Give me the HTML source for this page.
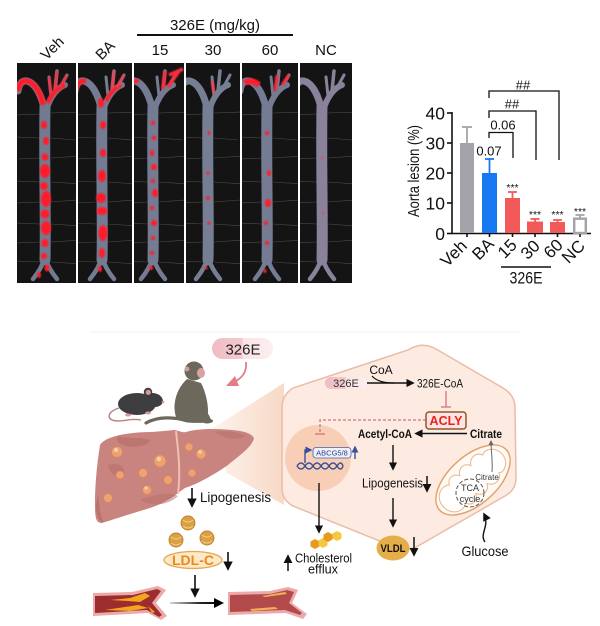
<!DOCTYPE html>
<html><head><meta charset="utf-8"><style>
html,body{margin:0;padding:0;background:#fff;}
svg{display:block;font-family:"Liberation Sans",Arial,sans-serif;}
</style></head><body>
<svg width="600" height="626" viewBox="0 0 600 626" xmlns="http://www.w3.org/2000/svg">
<defs>
  <filter id="bl" x="-50%" y="-50%" width="200%" height="200%"><feGaussianBlur stdDeviation="0.7"/></filter>
  <clipPath id="k1"><rect x="-28" y="0" width="59" height="220"/></clipPath>
  <clipPath id="k2"><rect x="-24" y="0" width="54" height="220"/></clipPath>
  <clipPath id="k3"><rect x="-19" y="0" width="50" height="220"/></clipPath>
  <clipPath id="k4"><rect x="-22" y="0" width="54" height="220"/></clipPath>
  <clipPath id="k5"><rect x="-25" y="0" width="56" height="220"/></clipPath>
  <clipPath id="k6"><rect x="-22" y="0" width="52" height="220"/></clipPath>
  <g id="pins" stroke="#a8a08a" stroke-width="0.6" opacity="0.4">
    <line x1="-30" y1="52" x2="-5" y2="51"/><line x1="6" y1="50" x2="35" y2="49"/>
    <line x1="-30" y1="74" x2="-5" y2="75"/><line x1="6" y1="75" x2="30" y2="77"/>
    <line x1="-26" y1="96" x2="-5" y2="95"/><line x1="6" y1="95" x2="35" y2="93"/>
    <line x1="-30" y1="118" x2="-5" y2="119"/><line x1="6" y1="119" x2="35" y2="121"/>
    <line x1="-30" y1="140" x2="-5" y2="139"/><line x1="6" y1="139" x2="32" y2="137"/>
    <line x1="-30" y1="160" x2="-5" y2="161"/><line x1="6" y1="161" x2="35" y2="163"/>
    <line x1="-30" y1="180" x2="-5" y2="179"/><line x1="6" y1="179" x2="35" y2="177"/>
    <line x1="-30" y1="198" x2="-5" y2="199"/><line x1="6" y1="199" x2="35" y2="201"/>
  </g>
  <g id="ves" fill="none" stroke-linecap="round">
    <path d="M0,44 C-1,100 1,160 0,197" stroke-width="11"/>
    <path d="M0,50 C-3,32 -10,20 -18,18 C-23,17 -26,21 -27,28" stroke-width="7"/>
    <path d="M1,48 C5,34 12,25 20,22" stroke-width="6"/>
    <path d="M10,28 L12,8" stroke-width="3.5"/>
    <path d="M15,25 L22,12" stroke-width="3"/>
    <path d="M6,33 L4,14" stroke-width="3"/>
    <path d="M0,194 Q-3,205 -12,216" stroke-width="4.5"/>
    <path d="M0,194 Q3,205 12,216" stroke-width="4.5"/>
  </g>
  <linearGradient id="pill" x1="0" x2="1" y1="0" y2="0">
    <stop offset="0" stop-color="#efbcc2"/><stop offset="0.5" stop-color="#f3cace"/><stop offset="0.5" stop-color="#fbe3e5"/><stop offset="1" stop-color="#fdeef0"/>
  </linearGradient>
  <linearGradient id="wedge" x1="0" x2="1" y1="0" y2="0">
    <stop offset="0" stop-color="#fdf3ec"/><stop offset="1" stop-color="#f7d9c6"/>
  </linearGradient>
  <linearGradient id="harr" gradientUnits="userSpaceOnUse" x1="170" y1="603" x2="222" y2="603">
    <stop offset="0" stop-color="#d5d5d5"/><stop offset="0.6" stop-color="#222"/><stop offset="1" stop-color="#000"/>
  </linearGradient>
  <marker id="ah" viewBox="0 0 10 10" refX="8" refY="5" markerWidth="6" markerHeight="6" orient="auto-start-reverse">
    <path d="M0,0 L10,5 L0,10 z" fill="#111"/>
  </marker>
  <marker id="ahb" viewBox="0 0 10 10" refX="8" refY="5" markerWidth="5" markerHeight="5" orient="auto-start-reverse">
    <path d="M0,0 L10,5 L0,10 z" fill="#3a4f9a"/>
  </marker>
  <marker id="ahg" viewBox="0 0 10 10" refX="8" refY="5" markerWidth="5" markerHeight="5" orient="auto-start-reverse">
    <path d="M0,0 L10,5 L0,10 z" fill="#666"/>
  </marker>
</defs>

<rect width="600" height="626" fill="#fff"/>

<!-- ===== TOP LEFT: aorta panels ===== -->
<g font-size="15" fill="#111">
  <text transform="translate(52,48) rotate(-45)" text-anchor="middle" dy="0.35em">Veh</text>
  <text transform="translate(105,50) rotate(-45)" text-anchor="middle" dy="0.35em">BA</text>
  <text x="160" y="55" text-anchor="middle">15</text>
  <text x="213" y="55" text-anchor="middle">30</text>
  <text x="270" y="55" text-anchor="middle">60</text>
  <text x="326" y="55" text-anchor="middle">NC</text>
  <text x="215" y="30" text-anchor="middle">326E (mg/kg)</text>
</g>
<line x1="137" y1="35" x2="293" y2="35" stroke="#111" stroke-width="2"/>

<!-- Veh -->
<g transform="translate(45,63)" clip-path="url(#k1)">
  <rect x="-28" y="0" width="59" height="220" fill="#141414"/>
  <use href="#pins"/>
  <use href="#ves" stroke="#838ca6" opacity="0.85"/>
  <g fill="#ff1f2a" filter="url(#bl)">
    <path d="M-2,42 C-4,30 -10,20 -18,18 C-23,17 -26,21 -27,28" stroke="#ff1f2a" stroke-width="5.5" fill="none"/>
    <path d="M3,40 C6,32 12,25 20,22" stroke="#ff1f2a" stroke-width="4.5" fill="none"/>
    <path d="M10,26 L12,8 M15,24 L22,12 M6,30 L4,14" stroke="#ff2a3a" stroke-width="2.5" fill="none"/>
    <ellipse cx="-1" cy="62" rx="3" ry="4"/>
    <ellipse cx="1" cy="78" rx="3" ry="4"/>
    <ellipse cx="0" cy="94" rx="3.5" ry="3.5"/>
    <ellipse cx="0" cy="108" rx="5" ry="7"/>
    <ellipse cx="-1" cy="123" rx="4" ry="4"/>
    <ellipse cx="1" cy="136" rx="5" ry="8"/>
    <ellipse cx="0" cy="151" rx="4.5" ry="4.5"/>
    <ellipse cx="1" cy="165" rx="5" ry="7"/>
    <ellipse cx="0" cy="180" rx="3.5" ry="4"/>
    <ellipse cx="-1" cy="193" rx="3" ry="3"/>
    <ellipse cx="2" cy="205" rx="2.5" ry="3.5"/>
    <ellipse cx="-6" cy="212" rx="2" ry="3"/>
  </g>
</g>
<!-- BA -->
<g transform="translate(102,63)" clip-path="url(#k2)">
  <rect x="-24" y="0" width="54" height="220" fill="#141414"/>
  <use href="#pins"/>
  <use href="#ves" stroke="#858ea8" opacity="0.85"/>
  <g fill="#ff1f2a" filter="url(#bl)">
    <path d="M-16,18 C-22,17 -25,21 -26,27" stroke="#ff1f2a" stroke-width="5" fill="none"/>
    <path d="M4,38 C7,32 12,25 19,22" stroke="#ff1f2a" stroke-width="4" fill="none"/>
    <path d="M10,26 L12,8 M15,24 L22,12" stroke="#ff3a4a" stroke-width="2.5" fill="none"/>
    <ellipse cx="-1" cy="40" rx="3" ry="5"/>
    <ellipse cx="1" cy="62" rx="3" ry="4"/>
    <ellipse cx="1" cy="90" rx="3" ry="4"/>
    <ellipse cx="0" cy="113" rx="4" ry="6"/>
    <ellipse cx="-1" cy="135" rx="5" ry="5"/>
    <ellipse cx="0" cy="148" rx="5.5" ry="4"/>
    <ellipse cx="1" cy="170" rx="4.5" ry="8"/>
    <ellipse cx="0" cy="190" rx="3" ry="5"/>
    <ellipse cx="-2" cy="206" rx="2" ry="3"/>
  </g>
</g>
<!-- 15 -->
<g transform="translate(153,63)" clip-path="url(#k3)">
  <rect x="-19" y="0" width="50" height="220" fill="#141414"/>
  <use href="#pins"/>
  <use href="#ves" stroke="#858ea8" opacity="0.85"/>
  <g fill="#ff1f2a" filter="url(#bl)">
    <path d="M-14,18 C-18,17 -20,19 -22,22" stroke="#ff1f2a" stroke-width="4" fill="none"/>
    <path d="M10,26 L12,8 M15,24 L26,8 M16,12 L30,6" stroke="#ff2a3a" stroke-width="3.5" fill="none"/>
    <ellipse cx="0" cy="60" rx="2" ry="2"/>
    <ellipse cx="1" cy="75" rx="2.2" ry="2.2"/>
    <ellipse cx="-1" cy="90" rx="2" ry="3"/>
    <ellipse cx="1" cy="104" rx="3" ry="3"/>
    <ellipse cx="0" cy="118" rx="2" ry="2"/>
    <ellipse cx="2" cy="130" rx="3" ry="4"/>
    <ellipse cx="-1" cy="145" rx="2" ry="2"/>
    <ellipse cx="1" cy="160" rx="3" ry="3"/>
    <ellipse cx="0" cy="175" rx="2" ry="2"/>
    <ellipse cx="-1" cy="190" rx="2" ry="2"/>
    <ellipse cx="-2" cy="205" rx="2" ry="2"/>
  </g>
</g>
<!-- 30 -->
<g transform="translate(208,63)" clip-path="url(#k4)">
  <rect x="-22" y="0" width="54" height="220" fill="#141414"/>
  <use href="#pins"/>
  <use href="#ves" stroke="#8891ab" opacity="0.85"/>
  <g fill="#ff2030" filter="url(#bl)">
    <path d="M6,30 L4,18" stroke="#ff3a4a" stroke-width="2.5" fill="none"/>
    <ellipse cx="1" cy="70" rx="1.5" ry="2"/>
    <ellipse cx="0" cy="110" rx="1.5" ry="1.5"/>
    <ellipse cx="0" cy="135" rx="2" ry="2"/>
    <ellipse cx="1" cy="160" rx="1.5" ry="1.5"/>
    <ellipse cx="-2" cy="205" rx="1.5" ry="1.5"/>
  </g>
</g>
<!-- 60 -->
<g transform="translate(267,63)" clip-path="url(#k5)">
  <rect x="-25" y="0" width="56" height="220" fill="#141414"/>
  <use href="#pins"/>
  <use href="#ves" stroke="#858ea8" opacity="0.85"/>
  <g fill="#ff1f2a" filter="url(#bl)">
    <path d="M-8,22 C-13,18 -18,17 -22,20" stroke="#ff1f2a" stroke-width="6" fill="none"/>
    <path d="M8,28 L10,12 M15,22 L22,12" stroke="#ff2a3a" stroke-width="3" fill="none"/>
    <ellipse cx="0" cy="70" rx="2" ry="2"/>
    <ellipse cx="2" cy="110" rx="2" ry="3"/>
    <ellipse cx="1" cy="140" rx="3" ry="4"/>
    <ellipse cx="-1" cy="160" rx="2" ry="2"/>
    <ellipse cx="0" cy="180" rx="2" ry="2"/>
    <ellipse cx="-2" cy="208" rx="1.5" ry="2"/>
  </g>
</g>
<!-- NC -->
<g transform="translate(322,63)" clip-path="url(#k6)">
  <rect x="-22" y="0" width="52" height="220" fill="#141414"/>
  <use href="#pins"/>
  <use href="#ves" stroke="#9e96b2" opacity="0.85"/>
  <g fill="#ff3040" filter="url(#bl)" opacity="0.7">
    <ellipse cx="0" cy="95" rx="1.2" ry="1.2"/>
    <ellipse cx="1" cy="150" rx="1.2" ry="1.2"/>
  </g>
</g>

<!-- ===== TOP RIGHT: bar chart ===== -->
<g>
  <line x1="452" y1="112" x2="452" y2="234" stroke="#111" stroke-width="1.6"/>
  <line x1="451.2" y1="233.5" x2="591" y2="233.5" stroke="#111" stroke-width="1.6"/>
  <g stroke="#111" stroke-width="1.6">
    <line x1="447" y1="113" x2="452" y2="113"/>
    <line x1="447" y1="143" x2="452" y2="143"/>
    <line x1="447" y1="173" x2="452" y2="173"/>
    <line x1="447" y1="203" x2="452" y2="203"/>
    <line x1="447" y1="233.5" x2="452" y2="233.5"/>
    <line x1="467" y1="233" x2="467" y2="237"/>
    <line x1="489.5" y1="233" x2="489.5" y2="237"/>
    <line x1="512.5" y1="233" x2="512.5" y2="237"/>
    <line x1="535" y1="233" x2="535" y2="237"/>
    <line x1="557.5" y1="233" x2="557.5" y2="237"/>
    <line x1="580" y1="233" x2="580" y2="237"/>
  </g>
  <g font-size="17.5" fill="#111" text-anchor="end">
    <text x="445" y="119.5">40</text>
    <text x="445" y="149.5">30</text>
    <text x="445" y="179.5">20</text>
    <text x="445" y="209.5">10</text>
    <text x="445" y="240">0</text>
  </g>
  <text transform="translate(419,171) rotate(-90)" text-anchor="middle" font-size="16" fill="#111" textLength="92" lengthAdjust="spacingAndGlyphs">Aorta lesion (%)</text>

  <g stroke-width="1.8">
    <line x1="467" y1="143" x2="467" y2="127" stroke="#a3a3a9"/>
    <line x1="462" y1="127" x2="472" y2="127" stroke="#a3a3a9"/>
    <rect x="460" y="143" width="14" height="90" fill="#a3a3a9"/>

    <line x1="489.5" y1="173" x2="489.5" y2="159" stroke="#1778f2"/>
    <line x1="485" y1="159" x2="494" y2="159" stroke="#1778f2"/>
    <rect x="482" y="173" width="15" height="60" fill="#1778f2"/>

    <line x1="512.5" y1="198" x2="512.5" y2="192" stroke="#f25a5a"/>
    <line x1="508" y1="192" x2="517" y2="192" stroke="#f25a5a"/>
    <rect x="505" y="198" width="15" height="35" fill="#f25a5a"/>

    <line x1="535" y1="221.5" x2="535" y2="219" stroke="#f25a5a"/>
    <line x1="530.5" y1="219" x2="539.5" y2="219" stroke="#f25a5a"/>
    <rect x="527" y="221.5" width="16" height="11.5" fill="#f25a5a"/>

    <line x1="557.5" y1="222" x2="557.5" y2="220" stroke="#f25a5a"/>
    <line x1="553" y1="220" x2="562" y2="220" stroke="#f25a5a"/>
    <rect x="550" y="222" width="15" height="11" fill="#f25a5a"/>

    <line x1="580" y1="217.5" x2="580" y2="215" stroke="#a3a3a9"/>
    <line x1="575.5" y1="215" x2="584.5" y2="215" stroke="#a3a3a9"/>
    <rect x="574.2" y="218.7" width="11.6" height="14.3" fill="#fff" stroke="#a3a3a9" stroke-width="2.4"/>
  </g>

  <g fill="none" stroke="#111" stroke-width="1.3">
    <path d="M489,98 V91 H559 V160"/>
    <path d="M489,118 V111 H536 V160"/>
    <path d="M489,138 V132.5 H513 V158"/>
  </g>
  <g font-size="13" fill="#111" text-anchor="middle">
    <text x="523" y="89.5">##</text>
    <text x="512" y="108.5">##</text>
    <text x="503" y="129.5">0.06</text>
    <text x="489" y="155.5">0.07</text>
  </g>
  <g font-size="10.5" fill="#111" text-anchor="middle">
    <text x="512.5" y="191">***</text>
    <text x="535" y="218">***</text>
    <text x="557.5" y="218">***</text>
    <text x="580" y="215">***</text>
  </g>
  <g font-size="17" fill="#111" text-anchor="end">
    <text transform="translate(468,247) rotate(-45)">Veh</text>
    <text transform="translate(495,245) rotate(-45)">BA</text>
    <text transform="translate(518,246) rotate(-45)">15</text>
    <text transform="translate(541,247) rotate(-45)">30</text>
    <text transform="translate(564,246) rotate(-45)">60</text>
    <text transform="translate(586,247) rotate(-45)">NC</text>
  </g>
  <line x1="501" y1="267" x2="551" y2="267" stroke="#111" stroke-width="1.6"/>
  <text x="526" y="283.5" font-size="17" text-anchor="middle" fill="#111" textLength="33" lengthAdjust="spacingAndGlyphs">326E</text>
</g>

<!-- ===== BOTTOM ===== -->
<line x1="90" y1="332" x2="520" y2="332" stroke="#f1f1f1" stroke-width="1"/>

<polygon points="213,428 284,383 284,505 227,473" fill="url(#wedge)"/>

<path d="M408,350 Q422,341 436,349 L503,388 Q515,395 515,408 L516,478 Q516,490 505,496 L418,546 Q405,553 392,546 L293,506 Q282,500 282,488 L282,408 Q282,395 293,388 Z" fill="#fdebe2" stroke="#ebbba8" stroke-width="1.5"/>

<rect x="212" y="338" width="61" height="21" rx="10.5" fill="url(#pill)"/>
<text x="243" y="354.5" font-size="15" text-anchor="middle" fill="#222">326E</text>
<path d="M246,362 C247,371 243,377 236,381" fill="none" stroke="#e27d86" stroke-width="1.8"/>
<polygon points="226,386 235,376 239,386" fill="#e27d86"/>

<!-- mouse -->
<g>
  <path d="M119,408 C106,412 106,421 118,421 C126,421 132,418 141,420" fill="none" stroke="#b88080" stroke-width="1.4"/>
  <ellipse cx="137" cy="404" rx="19" ry="11" fill="#3e3e41"/>
  <ellipse cx="153" cy="400" rx="10" ry="7" transform="rotate(10 153 400)" fill="#3e3e41"/>
  <circle cx="148" cy="392" r="4.2" fill="#3e3e41"/>
  <circle cx="148.3" cy="392.3" r="2.6" fill="#d99a9a"/>
  <circle cx="163" cy="402" r="1.3" fill="#d99a9a"/>
  <ellipse cx="128" cy="415" rx="3" ry="1.5" fill="#d99a9a"/>
  <ellipse cx="148" cy="413" rx="3" ry="1.5" fill="#d99a9a"/>
</g>
<!-- monkey -->
<g fill="#6d685c">
  <path d="M146,423 C158,416 175,417 188,421" fill="none" stroke="#6d685c" stroke-width="3.2" stroke-linecap="round"/>
  <path d="M187,379 C176,389 172,405 176,417 C179,423 196,424 206,422 C210,416 208,396 201,383 Z"/>
  <path d="M196,405 C204,408 210,414 211,421 L200,423 Z"/>
  <ellipse cx="207" cy="421" rx="6" ry="2.5"/>
  <circle cx="194" cy="371" r="9.5"/>
  <ellipse cx="201" cy="373" rx="4" ry="5" fill="#d9a3a0"/>
  <circle cx="187" cy="369" r="2.5" fill="#cf9d98"/>
</g>

<!-- liver -->
<g>
  <path d="M100,445 C105,436 130,432 152,432 L175,430 C180,431 183,433 186,432 C195,429 212,428 232,430 C245,431 252,434 254,438 C252,447 240,455 228,465 C215,474 200,483 185,488 C175,495 168,502 150,508 C130,514 112,520 102,523 C96,523 95,518 95,505 C95,490 96,470 100,445 Z" fill="#c98480"/>
  <path d="M118,436 C130,440 140,436 150,440 C148,446 136,448 125,446 C118,444 115,440 118,436 Z" fill="#b46d69" opacity="0.6"/>
  <path d="M108,465 C118,462 125,466 124,474 C118,478 110,476 108,465 Z" fill="#b46d69" opacity="0.55"/>
  <path d="M140,500 C155,494 170,492 178,496 C170,504 155,508 140,500 Z" fill="#b46d69" opacity="0.5"/>
  <path d="M215,432 C225,430 240,432 246,436 C238,440 225,440 215,432 Z" fill="#b46d69" opacity="0.5"/>
  <path d="M98,495 C100,508 100,518 104,522 C100,522 96,518 96,505 Z" fill="#a86060" opacity="0.5"/>
  <path d="M176,431 C178,450 181,470 178,494" fill="none" stroke="#edc0b0" stroke-width="2"/>
  <g fill="#eca272" stroke="#d7875a" stroke-width="0.8">
    <circle cx="117" cy="452" r="5.5"/>
    <circle cx="160" cy="461" r="6"/>
    <circle cx="201" cy="454" r="5"/>
    <circle cx="189" cy="447" r="4"/>
    <circle cx="120" cy="475" r="4"/>
    <circle cx="143" cy="473" r="4.5"/>
    <circle cx="168" cy="480" r="4.5"/>
    <circle cx="192" cy="473" r="4"/>
    <circle cx="147" cy="490" r="4.5"/>
    <circle cx="108" cy="498" r="4.5"/>
  </g>
  <g fill="#f9cfa6">
    <circle cx="116" cy="450" r="2"/>
    <circle cx="159" cy="459" r="2.2"/>
    <circle cx="200" cy="452" r="1.8"/>
    <circle cx="146" cy="488" r="1.6"/>
  </g>
</g>

<line x1="192" y1="488" x2="192" y2="506" stroke="#111" stroke-width="1.6" marker-end="url(#ah)"/>
<text x="200" y="502" font-size="13.5" fill="#111" textLength="71" lengthAdjust="spacingAndGlyphs">Lipogenesis</text>

<g fill="#daa043" stroke="#c07f2c" stroke-width="0.9">
  <circle cx="188" cy="523" r="7"/>
  <circle cx="176" cy="540" r="7"/>
  <circle cx="207" cy="538" r="7"/>
</g>
<g fill="none" stroke="#f4cf8a" stroke-width="1">
  <path d="M183,520 Q188,524 193,520"/><path d="M183,526 Q188,530 193,526"/>
  <path d="M171,537 Q176,541 181,537"/><path d="M171,543 Q176,547 181,543"/>
  <path d="M202,535 Q207,539 212,535"/><path d="M202,541 Q207,545 212,541"/>
</g>
<ellipse cx="193" cy="560" rx="29" ry="8.5" fill="#fde9c7" stroke="#e5a74e" stroke-width="1.3"/>
<text x="193" y="565" font-size="13.5" font-weight="bold" fill="#ea8a1e" text-anchor="middle" textLength="42" lengthAdjust="spacingAndGlyphs">LDL-C</text>
<line x1="228" y1="552" x2="228" y2="569" stroke="#111" stroke-width="1.6" marker-end="url(#ah)"/>
<line x1="195" y1="575" x2="195" y2="596" stroke="#111" stroke-width="1.6" marker-end="url(#ah)"/>

<!-- vessels -->
<path d="M93,593 L132,592 L158,586 L166,590 L156,603 L167,616 L161,620 L148,613 L93,616 Z" fill="#eca9a9"/>
<path d="M95,596 L133,595 L157,589 L161,591 L152,603 L162,615 L159,617 L147,610 L95,613 Z" fill="#9d2c2f"/>
<path d="M110,600 L130,598 L145,593 L150,596 L140,602 L128,601 Z" fill="#f2a61f"/>
<path d="M105,610 L125,607 L138,605 L148,608 L130,611 Z" fill="#f2a61f"/>
<path d="M148,606 L155,612 L152,613 Z" fill="#f2a61f"/>
<rect x="170" y="602" width="46" height="2" fill="url(#harr)"/>
<polygon points="224,603 214,598 214,608" fill="#000"/>
<path d="M228,592 L270,591 L288,587 L298,590 L292,603 L307,614 L303,619 L286,613 L228,615 Z" fill="#eca9a9"/>
<path d="M230,595 L270,594 L287,590 L294,592 L289,603 L302,613 L300,615 L285,610 L230,612 Z" fill="#b24a4b"/>
<path d="M262,596 L285,592 L287,594 L265,597 Z" fill="#f2b055"/>
<path d="M250,609 L275,607 L278,609 L252,611 Z" fill="#f2b055"/>

<!-- nucleus -->
<circle cx="318" cy="458" r="33" fill="#f8cfb6"/>
<g fill="none" stroke="#3a4f9a" stroke-width="1.4">
  <path d="M297,466 Q301,460 305,466 T313,466 T321,466 T329,466 T337,466 T343,466"/>
  <path d="M297,466 Q301,472 305,466 T313,466 T321,466 T329,466 T337,466 T343,466"/>
  <path d="M305,463 V450 H311" marker-end="url(#ahb)"/>
  <line x1="355" y1="459" x2="355" y2="447" marker-end="url(#ahb)"/>
</g>
<rect x="313" y="447.5" width="38" height="10.5" rx="3" fill="#eef1fb" stroke="#4a5fa0" stroke-width="0.8"/>
<text x="332" y="455.6" font-size="7.5" fill="#2f3f80" text-anchor="middle">ABCG5/8</text>

<path d="M426,420 H320 V433" fill="none" stroke="#d9707a" stroke-width="1.3" stroke-dasharray="3,2"/>
<line x1="315" y1="434" x2="325" y2="434" stroke="#d9707a" stroke-width="1.3"/>

<rect x="325" y="377" width="42" height="12" rx="6" fill="url(#pill)"/>
<text x="346" y="387" font-size="11" fill="#333" text-anchor="middle">326E</text>
<text x="381" y="374" font-size="12" fill="#111" text-anchor="middle">CoA</text>
<path d="M372,376 Q378,383 394,383" fill="none" stroke="#111" stroke-width="1.2"/>
<line x1="367" y1="383" x2="413" y2="383" stroke="#111" stroke-width="1.4" marker-end="url(#ah)"/>
<text x="417" y="387.5" font-size="12" fill="#111" textLength="46" lengthAdjust="spacingAndGlyphs">326E-CoA</text>

<line x1="446" y1="391" x2="446" y2="406.5" stroke="#d9707a" stroke-width="1.3"/>
<line x1="441" y1="407" x2="451" y2="407" stroke="#d9707a" stroke-width="1.3"/>
<rect x="426" y="412" width="40" height="17" rx="3" fill="#fde3e3" stroke="#8b5a2b" stroke-width="1.5"/>
<text x="446" y="425" font-size="12.5" font-weight="bold" fill="#e8231c" text-anchor="middle">ACLY</text>

<text x="358" y="438" font-size="11.5" font-weight="bold" fill="#111" textLength="54" lengthAdjust="spacingAndGlyphs">Acetyl-CoA</text>
<text x="470" y="438" font-size="11.5" font-weight="bold" fill="#111" textLength="32" lengthAdjust="spacingAndGlyphs">Citrate</text>
<line x1="467" y1="433.5" x2="416" y2="433.5" stroke="#111" stroke-width="1.4" marker-end="url(#ah)"/>
<line x1="393" y1="445" x2="393" y2="469" stroke="#111" stroke-width="1.4" marker-end="url(#ah)"/>
<text x="362" y="487.5" font-size="12.5" fill="#111" textLength="61" lengthAdjust="spacingAndGlyphs">Lipogenesis</text>
<line x1="427" y1="476" x2="427" y2="491" stroke="#111" stroke-width="1.5" marker-end="url(#ah)"/>
<line x1="393" y1="498" x2="393" y2="526" stroke="#111" stroke-width="1.4" marker-end="url(#ah)"/>
<ellipse cx="393" cy="548" rx="16.5" ry="12.5" fill="#e6ad4b"/>
<text x="393" y="552" font-size="11" font-weight="bold" fill="#111" text-anchor="middle" textLength="25" lengthAdjust="spacingAndGlyphs">VLDL</text>
<line x1="414" y1="537" x2="414" y2="555" stroke="#111" stroke-width="1.5" marker-end="url(#ah)"/>

<line x1="319" y1="483" x2="319" y2="532" stroke="#111" stroke-width="1.4" marker-end="url(#ah)"/>
<g stroke="none">
  <polygon points="315,539 319.5,541.5 319.5,546.5 315,549 310.5,546.5 310.5,541.5" fill="#e89a1e"/>
  <polygon points="323,538 327.5,540.5 327.5,545.5 323,548 318.5,545.5 318.5,540.5" fill="#f5c842"/>
  <polygon points="328,532 332.5,534.5 332.5,539.5 328,542 323.5,539.5 323.5,534.5" fill="#e89a1e"/>
  <polygon points="337,531 341.5,533.5 341.5,538.5 337,541 332.5,538.5 332.5,533.5" fill="#f5c842"/>
</g>
<line x1="288" y1="571" x2="288" y2="556" stroke="#111" stroke-width="1.5" marker-end="url(#ah)"/>
<text x="295" y="562.5" font-size="13" fill="#111" textLength="57" lengthAdjust="spacingAndGlyphs">Cholesterol</text>
<text x="323" y="573.5" font-size="13" fill="#111" text-anchor="middle" textLength="30" lengthAdjust="spacingAndGlyphs">efflux</text>

<g transform="rotate(-42 473 480)">
  <ellipse cx="473" cy="480" rx="45" ry="24" fill="#fffaf5" stroke="#e3a268" stroke-width="1.5"/>
  <path d="M433,480 C433,468 445,462 452,468 C455,462 462,461 466,468 C470,461 478,461 481,468 C485,461 494,461 497,468 C502,464 512,470 512,480 C512,490 502,496 497,492 C494,499 485,499 481,492 C478,499 470,499 466,492 C462,499 455,499 452,492 C445,498 433,492 433,480 Z" fill="#fff" stroke="#ebb58a" stroke-width="1"/>
</g>
<circle cx="470" cy="493" r="14" fill="none" stroke="#555" stroke-width="1" stroke-dasharray="4,2"/>
<text x="470" y="491" font-size="9" fill="#333" text-anchor="middle">TCA</text>
<text x="470" y="502" font-size="9" fill="#333" text-anchor="middle">cycle</text>
<text x="487" y="480" font-size="8" fill="#333" text-anchor="middle">Citrate</text>
<path d="M492,472 C493,462 491,452 491,441" fill="none" stroke="#666" stroke-width="1" marker-end="url(#ahg)"/>

<path d="M485,542 C479,534 490,526 484,514" fill="none" stroke="#111" stroke-width="1.4" marker-end="url(#ah)"/>
<text x="485" y="556" font-size="14" fill="#111" text-anchor="middle" textLength="47" lengthAdjust="spacingAndGlyphs">Glucose</text>

</svg>
</body></html>
